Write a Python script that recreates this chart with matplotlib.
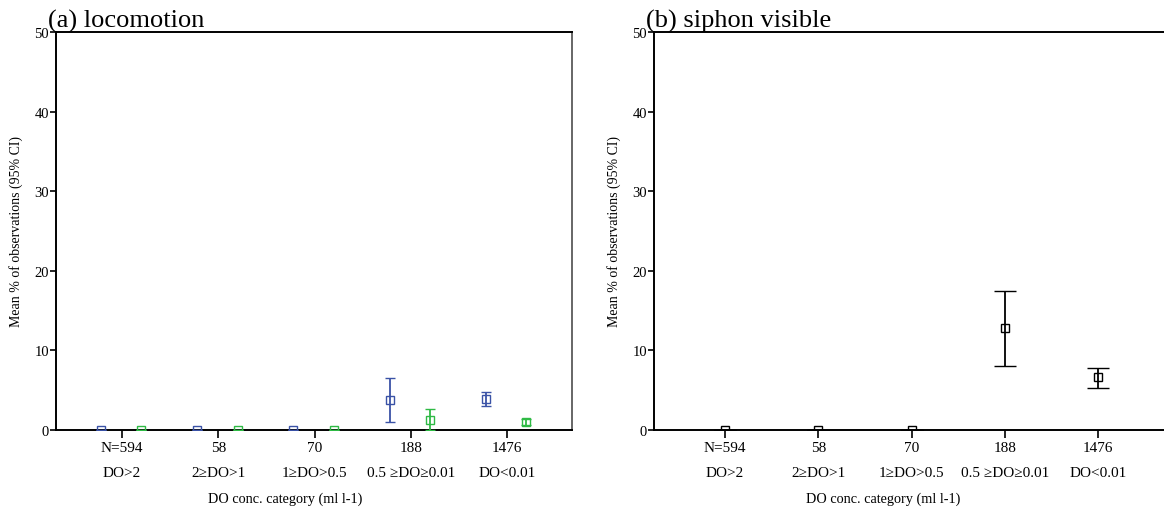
import numpy as np
import matplotlib.pyplot as plt

plt.rcParams['font.family'] = ['Liberation Serif', 'DejaVu Serif']

n_labels = ['N=594', '58', '70', '188', '1476']
do_labels = ['DO>2', '2\u2265DO>1', '1\u2265DO>0.5', '0.5 \u2265DO\u22650.01', 'DO<0.01']

# (a) locomotion, two series
loco_blue_mean = [0.0, 0.0, 0.0, 3.8, 3.9]
loco_blue_low = [0.0, 0.0, 0.0, 1.0, 3.0]
loco_blue_high = [0.0, 0.0, 0.0, 6.5, 4.8]
loco_green_mean = [0.0, 0.0, 0.0, 1.2, 1.0]
loco_green_low = [0.0, 0.0, 0.0, 0.0, 0.6]
loco_green_high = [0.0, 0.0, 0.0, 2.6, 1.4]

# (b) siphon visible
siph_mean = [0.0, 0.0, 0.0, 12.8, 6.6]
siph_low = [0.0, 0.0, 0.0, 8.0, 5.3]
siph_high = [0.0, 0.0, 0.0, 17.5, 7.8]

W, H = 1164, 510
fig = plt.figure(figsize=(W / 100, H / 100), dpi=100)

ax1 = fig.add_axes([56 / W, (H - 431) / H, 516 / W, 398 / H])
ax2 = fig.add_axes([654 / W, (H - 431) / H, 515 / W, 398 / H])

x = np.arange(len(n_labels))


def draw_ci(ax, xs, mean, low, high, color, capsize):
    mean = np.array(mean)
    err = [mean - np.array(low), np.array(high) - mean]
    ax.errorbar(xs, mean, yerr=err, fmt='s', color=color, mfc='none',
                mec=color, ms=5.5, mew=1.0, elinewidth=1.3, capsize=capsize,
                capthick=1.4, zorder=3)


draw_ci(ax1, x - 0.22, loco_blue_mean, loco_blue_low, loco_blue_high, '#3a52a6', 3.8)
draw_ci(ax1, x + 0.20, loco_green_mean, loco_green_low, loco_green_high, '#2fba45', 3.8)
draw_ci(ax2, x, siph_mean, siph_low, siph_high, 'black', 8)

titles = ['(a) locomotion', '(b) siphon visible']
for ax, title, xl in [(ax1, titles[0], (-0.686, 4.675)), (ax2, titles[1], (-0.76, 4.76))]:
    ax.set_xlim(*xl)
    ax.set_ylim(0, 50)
    ax.set_yticks([0, 10, 20, 30, 40, 50])
    ax.set_xticks(x)
    ax.set_xticklabels([f'{n}\n{d}' for n, d in zip(n_labels, do_labels)],
                       fontsize=11, linespacing=2.15)
    ax.tick_params(axis='x', length=6, width=1.2, pad=2, direction='out')
    ax.tick_params(axis='y', length=4, width=1.2, pad=1, labelsize=10.5, direction='out')
    for s in ax.spines.values():
        s.set_linewidth(1.4)
    ax.set_ylabel('Mean % of observations (95% CI)', fontsize=10)
    ax.yaxis.set_label_coords(-0.064, 0.5)
    ax.set_xlabel('DO conc. category (ml l-1)', fontsize=10.3)
    ax.xaxis.set_label_coords(0.445, -0.155)
    ax.text(-0.016, 1.0, title, transform=ax.transAxes, fontsize=19,
            ha='left', va='bottom')

ax1.spines['right'].set_color('#666666')

fig.savefig('out.png', dpi=100)
